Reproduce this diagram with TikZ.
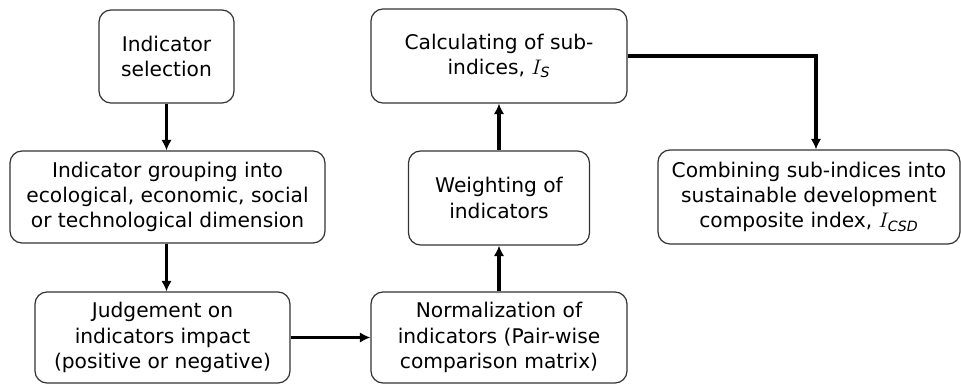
\documentclass[tikz,border=0pt]{standalone}
\usepackage{amsmath}
\usepackage{fontspec}
\setmainfont{DejaVu Sans}
\usepackage{tikz}
\usetikzlibrary{arrows.meta}

\begin{document}
\begin{tikzpicture}
		\tikzstyle{stepbox}=[draw=black!80,line width=0.7pt,rounded corners=0.24cm,align=center,inner sep=0,font=\fontsize{11.5}{14.4}\selectfont]
		\tikzstyle{flow}=[line width=1.8pt,-{Latex[length=6pt,width=6pt]}]
		\useasboundingbox (0,0) rectangle (19.22,7.70);

		\node[stepbox,minimum width=2.70cm,minimum height=1.86cm] (select) at (3.33,6.57) {Indicator\\selection};
		\node[stepbox,minimum width=6.30cm,minimum height=1.84cm] (group) at (3.35,3.76) {Indicator grouping into\\ecological, economic, social\\or technological dimension};
		\node[stepbox,minimum width=5.10cm,minimum height=1.82cm] (judge) at (3.25,0.95) {Judgement on\\indicators impact\\(positive or negative)};
		\node[stepbox,minimum width=5.12cm,minimum height=1.82cm] (norm) at (9.98,0.95) {Normalization of\\indicators (Pair-wise\\comparison matrix)};
		\node[stepbox,minimum width=3.62cm,minimum height=1.88cm] (weight) at (9.98,3.74) {Weighting of\\indicators};
		\node[stepbox,minimum width=5.12cm,minimum height=1.88cm] (calc) at (9.98,6.58) {Calculating of sub-\\indices, $I_{\textit{S}}$};
		\node[stepbox,minimum width=6.04cm,minimum height=1.88cm] (combine) at (16.18,3.76) {Combining sub-indices into\\sustainable development\\composite index, $I_{\textit{CSD}}$};

		\draw[flow] (select.south) -- (select.south |- group.north);
		\draw[flow] (select.south |- group.south) -- (select.south |- judge.north);
		\draw[flow] (judge) -- (norm);
		\draw[flow] (norm) -- (weight);
		\draw[flow] (weight) -- (calc);
		\draw[flow] (calc.east) -| ([xshift=0.14cm]combine.north);
	\end{tikzpicture}
\end{document}
